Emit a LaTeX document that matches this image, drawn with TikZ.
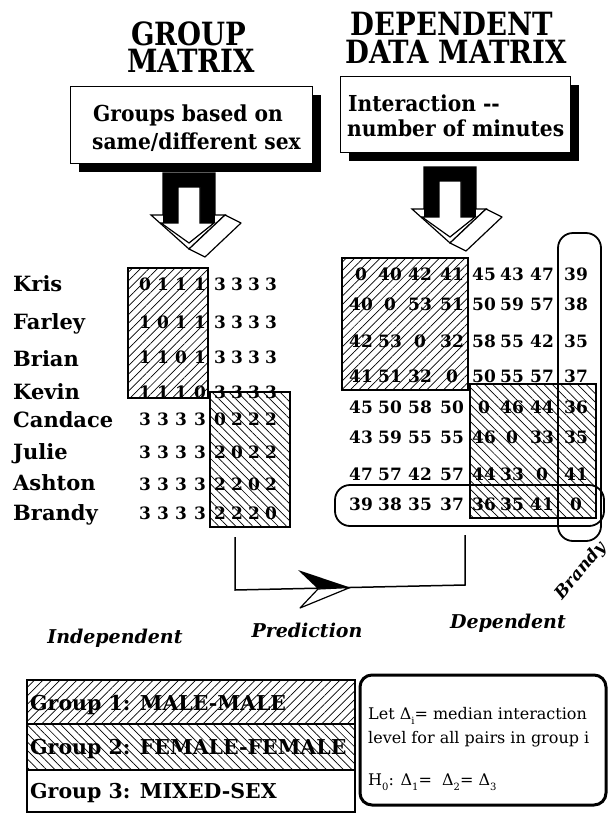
\documentclass[tikz,border=0pt]{standalone}
\usepackage{fontspec}
\setmainfont{DejaVu Serif}
\newfontfamily\cnd{DejaVu Serif}[FakeStretch=0.86]
\newfontfamily\cndb{DejaVu Serif}[FakeStretch=0.92]
\usetikzlibrary{patterns.meta,shadows}
\newcommand\fsz[1]{\fontsize{#1}{#1}\selectfont}
\newcommand\sbs[1]{\raisebox{-0.35em}{\fontsize{10}{10}\selectfont #1}}
\begin{document}
\begin{tikzpicture}[x=1pt,y=-1pt,
  title/.style={font=\cnd\bfseries\fsz{32}, inner sep=0, anchor=base},
  boxtxt/.style={font=\cndb\bfseries\fsz{22}, inner sep=0, anchor=base west},
  tbox/.style={draw, line width=1.3pt, fill=white, anchor=north west, inner sep=0,
     drop shadow={shadow xshift=8pt, shadow yshift=-8pt, fill=black, opacity=1}},
  pname/.style={font=\bfseries\fsz{21}, inner sep=0, anchor=base west},
  num/.style={font=\bfseries\fsz{17}, inner sep=0, anchor=base},
  hatchA/.style={pattern={Lines[angle=45,distance=6pt,line width=0.7pt]}},
  hatchB/.style={pattern={Lines[angle=-45,distance=6pt,line width=0.7pt]}},
  hbox/.style={draw, line width=1.2pt},
  loop/.style={draw, line width=1.8pt, rounded corners=15pt},
  axis/.style={font=\bfseries\itshape\fsz{19}, inner sep=0, anchor=base},
  legtxt/.style={font=\bfseries\fsz{20.5}, inner sep=0, anchor=base west},
  lettxt/.style={font=\fsz{16}, inner sep=0, anchor=base west},
  conn/.style={line width=1.5pt},
  pics/bigarrow/.style={code={
    \draw[line width=1.2pt, fill=white] (-26,0) -- (26,0) -- (26,42) -- (36,42) -- (0,76) -- (-38,42) -- (-26,42) -- cycle;
    \fill[black] (-26,0) rectangle (26,50);
    \draw[line width=1.2pt, fill=white] (-11,14) -- (11,14) -- (11,50) -- (25,50) -- (0,70) -- (-28,50) -- (-11,50) -- cycle;
    \draw[line width=1.2pt, fill=white, line join=round] (36,42) -- (52,50) -- (16,84) -- (0,76) -- cycle;
  }}
]
\useasboundingbox (0,0) rectangle (610,825);
\fill[white] (0,0) rectangle (610,825);

% titles
\node[title] (t1a) at (189,45) {GROUP};
\node[title] (t1b) at (191,72) {MATRIX};
\node[title] (t2a) at (452,35) {DEPENDENT};
\node[title] (t2b) at (456,63) {DATA MATRIX};

% top boxes
\node[tbox, minimum width=242pt, minimum height=77pt] (boxL) at (70,86) {};
\node[boxtxt] (boxL1) at (93,121) {Groups based on};
\node[boxtxt] (boxL2) at (92,149) {same/different sex};
\node[tbox, minimum width=230pt, minimum height=76pt] (boxR) at (340,76) {};
\node[boxtxt] (boxR1) at (348,111) {Interaction -{}-};
\node[boxtxt] (boxR2) at (347,136) {number of minutes};

% big arrows
\pic at (189,173) {bigarrow};
\pic at (450,167) {bigarrow};

% group matrix boxes
\draw[hbox, hatchA] (128,268) rectangle (208,398);
\draw[hbox, hatchB] (210,392) rectangle (290,527);

% names
\foreach \nm/\yy in {Kris/291, Farley/329, Brian/366, Kevin/399, Candace/427, Julie/459, Ashton/490, Brandy/520}
  \node[pname] (n-\nm) at (13,\yy) {\nm};

% group matrix numbers
\foreach \row [count=\r] in {{0,1,1,1,3,3,3,3},{1,0,1,1,3,3,3,3},{1,1,0,1,3,3,3,3},{1,1,1,0,3,3,3,3},
                             {3,3,3,3,0,2,2,2},{3,3,3,3,2,0,2,2},{3,3,3,3,2,2,0,2},{3,3,3,3,2,2,2,0}} {
  \foreach \v [count=\c] in \row {
    \pgfmathsetmacro{\xx}{{145,163,181,200,220,237,254,271}[\c-1]}
    \pgfmathsetmacro{\yy}{{290,328,363,398,425,458,490,519}[\r-1]}
    \node[num] (g-\r-\c) at (\xx,\yy) {\v};
  }
}

% dependent matrix boxes
\draw[hbox, hatchA] (342,258) rectangle (468,390);
\draw[hbox, hatchB] (470,384) rectangle (596,518);

% dependent matrix numbers
\foreach \row [count=\r] in {{0,40,42,41,45,43,47,39},{40,0,53,51,50,59,57,38},{42,53,0,32,58,55,42,35},{41,51,32,0,50,55,57,37},
                             {45,50,58,50,0,46,44,36},{43,59,55,55,46,0,33,35},{47,57,42,57,44,33,0,41},{39,38,35,37,36,35,41,0}} {
  \foreach \v [count=\c] in \row {
    \pgfmathsetmacro{\xx}{{361,390,420,452,484,512,542,576}[\c-1]}
    \pgfmathsetmacro{\yy}{{280,310,347,382,413,443,480,510}[\r-1]}
    \node[num] (d-\r-\c) at (\xx,\yy) {\v};
  }
}

% Brandy loops
\draw[loop] (558,233) rectangle (601,541);
\draw[loop] (335,485) rectangle (604,526);
\node[font=\bfseries\itshape\fsz{17}, inner sep=0, rotate=50] (brandyLbl) at (581,571) {Brandy};

% prediction connector
\coordinate (p1) at (235,537);
\coordinate (p2) at (235,590);
\coordinate (p3) at (465,585);
\coordinate (p4) at (465,535);
\draw[conn] (p1) -- (p2) -- (p3) -- (p4);
\fill[black] (298,570) -- (350,587.5) -- (318,589) -- cycle;
\draw[line width=1.2pt, fill=white, line join=round] (318,589) -- (300,608) -- (350,587.5) -- cycle;

% axis labels
\node[axis] (lblInd) at (115,643) {Independent};
\node[axis] (lblPred) at (307,637) {Prediction};
\node[axis] (lblDep) at (508,628) {Dependent};

% legend
\draw[hbox, hatchA] (27,680) rectangle (355,724);
\draw[hbox, hatchB] (27,724) rectangle (355,770);
\draw[hbox] (27,770) rectangle (355,812);
\node[legtxt] (leg1) at (30,710) {Group 1: MALE-MALE};
\node[legtxt] (leg2) at (30,754) {Group 2: FEMALE-FEMALE};
\node[legtxt] (leg3) at (30,798) {Group 3: MIXED-SEX};

\draw[line width=3pt, rounded corners=12pt] (360,675) rectangle (606,805);
\node[lettxt] (let1) at (368,719) {Let Δ\sbs{i}= median interaction};
\node[lettxt] (let2) at (368,743) {level for all pairs in group i};
\node[lettxt] (let3) at (368,785) {H\sbs{0}: Δ\sbs{1}=\ \ Δ\sbs{2}= Δ\sbs{3}};
\end{tikzpicture}
\end{document}
